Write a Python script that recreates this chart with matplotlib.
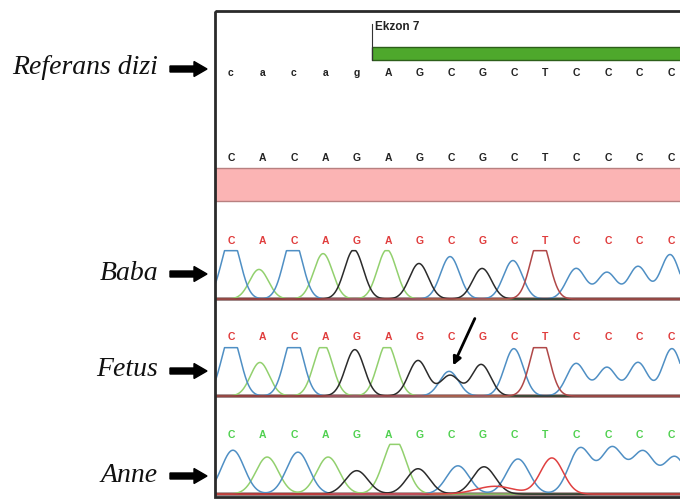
import numpy as np
import matplotlib.pyplot as plt
from matplotlib.patches import Rectangle

# sequences
ref_seq = list("cacagAGCGCTCCCC")
cons_seq = list("CACAGAGCGCTCCCC")
call_seq = list("CACAGAGCGCTCCCC")

# peak positions (base index units) and heights (signal units)
baba_pos = [0.0, 0.89, 1.97, 2.93, 3.91, 4.96, 5.98, 6.97, 7.99, 8.97, 9.83, 10.98, 11.96, 12.95, 13.97]
baba_amp = [62, 30, 62, 46, 50, 50, 36, 43, 31, 39, 62, 31, 27, 33, 45]

fetus_pos = [0.0, 0.92, 2.0, 2.93, 3.94, 4.96, 5.95, 6.94, 7.96, 9.0, 9.83, 10.98, 11.96, 12.95, 14.03]
fetus_amp = [62, 34, 62, 53, 47, 53, 36, 25, 32, 48, 62, 33, 29, 34, 48]
fetus_extra = [("G", 6.97, 21, 0.3)]   # second peak under the C (arrow)

anne_pos = [0.06, 1.15, 2.13, 3.09, 4.0, 5.21, 5.95, 7.22, 8.05, 9.13, 10.21, 11.11, 12.13, 13.11, 14.13]
anne_amp = [45, 38, 43, 38, 24, 56, 26, 29, 28, 36, 37, 47, 47, 43, 38]
anne_extra = [("T", 8.4, 8, 0.6)]

colors = {"C": "#4f8fc4", "A": "#92d06e", "G": "#2b2b2b", "T": "#c84a4a"}
xlim = (-0.509, 14.286)

fig = plt.figure(figsize=(6.8, 5), dpi=100)
W, H = 680.0, 500.0


def px_axes(left, top, right, bottom):
    return fig.add_axes([left / W, 1 - bottom / H, (right - left) / W, (bottom - top) / H])


# sequence rows at the top
ax_seq = px_axes(215, 11, 680, 205)
ax_seq.set_xlim(*xlim)
ax_seq.set_ylim(205, 11)
ax_seq.axis("off")
for i, b in enumerate(ref_seq):
    ax_seq.text(i, 73, b, ha="center", va="center", fontsize=7.5, fontweight="bold",
                color="#222222", family="Liberation Sans")
for i, b in enumerate(cons_seq):
    ax_seq.text(i, 158, b, ha="center", va="center", fontsize=7.5, fontweight="bold",
                color="#222222", family="Liberation Sans")
ax_seq.add_patch(Rectangle((4.5, 47), 12, 13, fc="#4ea82c", ec="#2d5e1a", lw=1))
ax_seq.plot([4.5, 4.5], [24, 60], color="#333333", lw=0.8)
ax_seq.text(4.58, 27, "Ekzon 7", ha="left", va="center", fontsize=8.5, fontweight="bold",
            color="#222222", family="Liberation Sans")
ax_seq.add_patch(Rectangle((xlim[0], 168), 20, 33, fc="#fbb4b4", ec="#b88080", lw=1))


def trace(ax, pos, amp, sigma, cap, extra, letter_y, letter_color, t_color):
    x = np.linspace(xlim[0], xlim[1], 2000)
    sig = {k: np.zeros_like(x) for k in "ACGT"}
    for b, p, a in zip(call_seq, pos, amp):
        sig[b] += a * np.exp(-(x - p) ** 2 / (2 * sigma ** 2))
    for b, p, a, s in extra:
        sig[b] += a * np.exp(-(x - p) ** 2 / (2 * s ** 2))
    ax.plot(x, np.zeros_like(x), color="#5a3030", lw=2.2)
    for b in "ACGT":
        c = t_color if b == "T" else colors[b]
        ax.plot(x, np.minimum(sig[b], cap), color=c, lw=1.1)
    for i, b in enumerate(call_seq):
        ax.text(i, letter_y, b, ha="center", va="center", fontsize=7.5, fontweight="bold",
                color=letter_color, family="Liberation Sans")
    ax.set_xlim(*xlim)
    ax.set_ylim(-3, letter_y + 15)
    ax.axis("off")


ax_b = px_axes(215, 226, 680, 302)
trace(ax_b, baba_pos, baba_amp, 0.3, 49, [], 59, "#e03c3c", "#b04848")
ax_f = px_axes(215, 322, 680, 399)
trace(ax_f, fetus_pos, fetus_amp, 0.3, 49, fetus_extra, 60, "#e03c3c", "#b04848")
ax_a = px_axes(215, 420, 680, 497)
trace(ax_a, anne_pos, anne_amp, 0.36, 51, anne_extra, 61, "#4fd04f", "#e04040")

# overlay for frame, labels and arrows
ax0 = fig.add_axes([0, 0, 1, 1])
ax0.patch.set_alpha(0)
ax0.set_xlim(0, W)
ax0.set_ylim(H, 0)
ax0.axis("off")
ax0.add_patch(Rectangle((215, 11), 480, 486, fill=False, ec="#2a2a2a", lw=2))

labels = ["Referans dizi", "Baba", "Fetus", "Anne"]
label_y = [68, 273, 370, 475]
for lab, y in zip(labels, label_y):
    ax0.text(158, y, lab, ha="right", va="center", fontsize=20, style="italic",
             family="Liberation Serif", color="#111111")
    ax0.arrow(170, y + 1, 37, 0, width=6, head_width=15, head_length=13,
              length_includes_head=True, fc="black", ec="black")

ax0.annotate("", xy=(452, 368), xytext=(476, 316),
             arrowprops=dict(arrowstyle="-|>", lw=2, color="black", mutation_scale=12))

fig.savefig("out.png", dpi=100)
